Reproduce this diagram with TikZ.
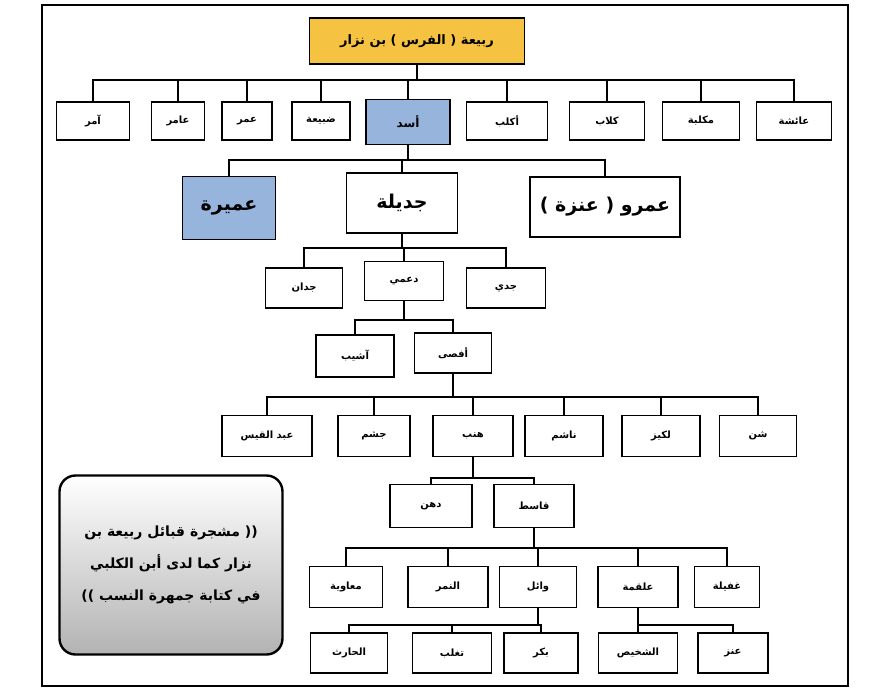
\documentclass[tikz,border=0pt]{standalone}
\usepackage{fontspec}
\TeXXeTstate=1
\newfontfamily\arabicfont[Script=Arabic]{DejaVu Sans}
\newcommand{\AR}[1]{{\arabicfont\beginR #1\endR}}
\begin{document}
\begin{tikzpicture}[x=1pt,y=-1pt,
  bx/.style={draw,line width=1.8pt,fill=white,inner sep=0pt,font=\arabicfont\bfseries\fontsize{10}{11}\selectfont},
  ln/.style={line width=2.4pt}]
\useasboundingbox (0,0) rectangle (885,695);
\fill[white] (0,0) rectangle (885,695);
\draw[line width=1.5pt] (42,5) rectangle (848,686);
\newcommand{\B}[6][]{\node[bx,minimum width=#4,minimum height=#5,#1] (#2) at (#3) {\AR{#6}};}
% top
\B[fill={rgb,255:red,245;green,194;blue,66},font=\arabicfont\bfseries\fontsize{13}{14}\selectfont]{top}{417,41}{215pt}{46pt}{ربيعة ( الفرس ) بن نزار}
% row 2
\B{amr}{93,121}{73pt}{38pt}{آمر}
\B{amir}{178,121}{53pt}{38pt}{عامر}
\B{omar}{247,121}{50pt}{38pt}{عمر}
\B{dub}{321,121}{58pt}{38pt}{ضبيعة}
\B[fill={rgb,255:red,150;green,180;blue,220},font=\arabicfont\bfseries\fontsize{12}{13}\selectfont]{asad}{408,122}{84pt}{45pt}{أسد}
\B{aklub}{507,121}{81pt}{38pt}{أكلب}
\B{kilab}{607,121}{75pt}{38pt}{كلاب}
\B{mukl}{701,121}{77pt}{38pt}{مكلبة}
\B{aisha}{794,121}{75pt}{38pt}{عائشة}
\foreach \c in {amr,amir,omar,dub,asad,aklub,kilab,mukl,aisha}
  \draw[ln] (top.south) -- (top.south |- 0,80) -| (\c.north);
% row 3
\B[fill={rgb,255:red,150;green,180;blue,220},font=\arabicfont\bfseries\fontsize{19}{20}\selectfont]{umayra}{229,208}{93pt}{63pt}{عميرة}
\B[font=\arabicfont\bfseries\fontsize{19}{20}\selectfont]{jad}{402,203}{111pt}{60pt}{جديلة}
\B[font=\arabicfont\bfseries\fontsize{19}{20}\selectfont]{anaza}{605,207}{150pt}{60pt}{عمرو ( عنزة )}
\foreach \c in {umayra,jad,anaza}
  \draw[ln] (asad.south) -- (asad.south |- 0,160) -| (\c.north);
% row 4
\B{jaddan}{304,288}{77pt}{40pt}{جدان}
\B{duami}{404,281}{79pt}{39pt}{دعمي}
\B{jaddi}{506,288}{79pt}{40pt}{جدي}
\foreach \c in {jaddan,duami,jaddi}
  \draw[ln] (jad.south) -- (jad.south |- 0,248) -| (\c.north);
% row 5
\B{ashyab}{355,356}{78pt}{42pt}{آشيب}
\B{afsa}{453,353}{77pt}{40pt}{أفصى}
\foreach \c in {ashyab,afsa}
  \draw[ln] (duami.south) -- (duami.south |- 0,320) -| (\c.north);
% row 6
\B{abd}{267,436}{90pt}{41pt}{عبد القيس}
\B{jusham}{374,436}{72pt}{41pt}{جشم}
\B{hinb}{473,436}{80pt}{41pt}{هنب}
\B{nashim}{564,436}{78pt}{41pt}{ناشم}
\B{lukayz}{661,436}{78pt}{41pt}{لكيز}
\B{shann}{758,436}{77pt}{41pt}{شن}
\coordinate (afb) at ([yshift=-10pt]afsa.south);
\draw[ln] (afsa.south) -- (afb);
\foreach \c in {abd,jusham,hinb,nashim,lukayz,shann}
  \draw[ln] (afb) -- (afb |- 0,397) -| (\c.north);
% row 7
\B{duhn}{431,506}{82pt}{43pt}{دهن}
\B{qasit}{534,506}{80pt}{43pt}{قاسط}
\foreach \c in {duhn,qasit}
  \draw[ln] (hinb.south) -- (hinb.south |- 0,478) -| (\c.north);
% row 8
\B{muawiya}{346,587}{73pt}{41pt}{معاوية}
\B{namir}{448,587}{80pt}{41pt}{النمر}
\B{wail}{538,587}{77pt}{41pt}{وائل}
\B{alqama}{638,587}{80pt}{41pt}{علقمة}
\B{ghufayla}{727,587}{65pt}{41pt}{غفيلة}
\foreach \c in {muawiya,namir,wail,alqama,ghufayla}
  \draw[ln] (qasit.south) -- (qasit.south |- 0,548) -| (\c.north);
% row 9
\B{harith}{349,653}{77pt}{40pt}{الحارث}
\B{taghlib}{452,653}{79pt}{40pt}{تغلب}
\B{bakr}{541,653}{74pt}{40pt}{بكر}
\B{shukhays}{638,653}{79pt}{40pt}{الشخيص}
\B{anz}{733,653}{70pt}{40pt}{عنز}
\foreach \c in {harith,taghlib,bakr}
  \draw[ln] (wail.south) -- (wail.south |- 0,625) -| (\c.north);
\foreach \c in {shukhays,anz}
  \draw[ln] (alqama.south) -- (alqama.south |- 0,625) -| (\c.north);
% legend
\node[draw,line width=2.4pt,rounded corners=16pt,minimum width=223pt,minimum height=179pt,
  top color=white,bottom color=black!30,inner sep=0pt,align=center,
  font=\arabicfont\bfseries\fontsize{14}{32}\selectfont] (legend) at (171,565)
  {\AR{(( مشجرة قبائل ربيعة بن}\\ \AR{نزار  كما لدى أبن الكلبي}\\ \AR{في كتابة جمهرة النسب ))}};
\end{tikzpicture}
\end{document}
